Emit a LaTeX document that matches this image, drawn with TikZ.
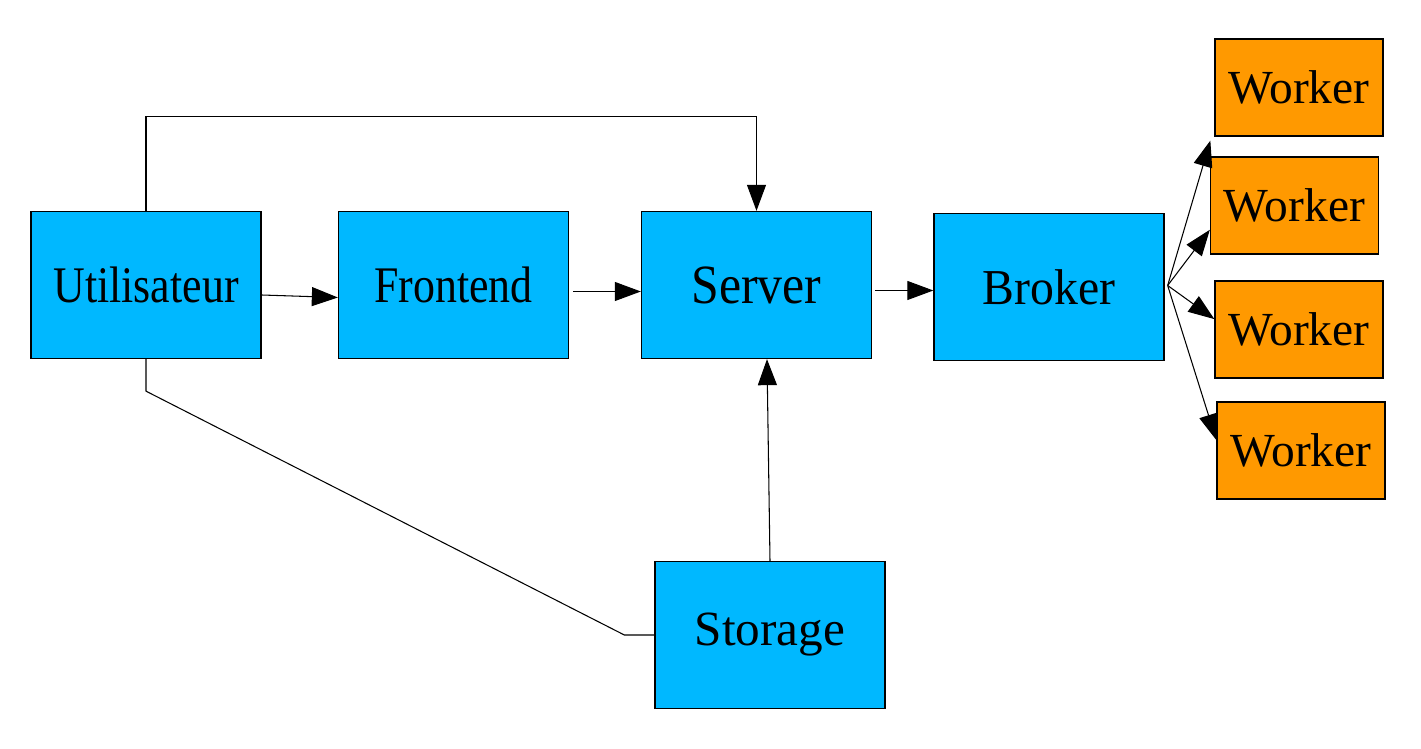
\documentclass[tikz,border=0pt]{standalone}
\usepackage{fontspec}
\setmainfont{Liberation Serif}
\newfontfamily\narrowserif[FakeStretch=0.855]{Liberation Serif}
\newfontfamily\serverserif[FakeStretch=0.9]{Liberation Serif}
\newfontfamily\brokerserif[FakeStretch=0.95]{Liberation Serif}
\usepackage{tikz}
\usetikzlibrary{shapes, arrows.meta}
\definecolor{skyblue}{RGB}{0,184,255}
\definecolor{workerorange}{RGB}{255,153,0}
\tikzstyle{service} = [rectangle, minimum width=4.6cm, minimum height=2.94cm, inner sep=0pt, text centered, draw=black, line width=0.75pt, fill=skyblue, font=\fontsize{28}{32}\selectfont]
\tikzstyle{worker} = [rectangle, minimum width=3.36cm, minimum height=1.94cm, inner sep=0pt, text centered, draw=black, line width=0.75pt, fill=workerorange, font=\fontsize{27}{31}\selectfont]
\tikzstyle{arrow} = [line width=0.6pt, -{Triangle[length=0.52cm, width=0.38cm]}]
\tikzstyle{link} = [line width=0.6pt]

\begin{document}
\begin{tikzpicture}[node distance = 6cm]
\useasboundingbox (0,0) rectangle (28.42,14.98);
\node (user) [service, font=\fontsize{29.2}{34}\selectfont\narrowserif] at (2.92,9.28) {Utilisateur};
\node (front) [service, font=\fontsize{29.2}{34}\selectfont\narrowserif, right of=user, xshift=0.15cm] {Frontend};
\node (server) [service, font=\fontsize{31.5}{36}\selectfont\serverserif, right of=front, xshift=0.06cm] {Server};
\node (broker) [service, font=\fontsize{28.6}{33}\selectfont\brokerserif, right of=server, xshift=-0.15cm, yshift=-0.04cm] {Broker};
\node (storage) [service, below of=server, xshift=0.27cm, yshift=-1cm] {Storage};
\node (w1) [worker, right of=broker, xshift=-1cm, yshift=3.99cm] {Worker};
\node (w2) [worker, below of=w1, node distance=2.36cm, xshift=-0.09cm] {Worker};
\node (w3) [worker, below of=w2, node distance=2.48cm, xshift=0.09cm] {Worker};
\node (w4) [worker, below of=w3, node distance=2.42cm, xshift=0.04cm] {Worker};
\coordinate (fan) at ([xshift=0.06cm, yshift=0.03cm]broker.east);

%---------------------------------ARROWS
\draw [arrow] ([yshift=-0.2cm]user.east) -- ([yshift=-0.25cm]front.west);
\draw [arrow] ([xshift=0.08cm, yshift=-0.13cm]front.east) -- ([yshift=-0.13cm]server.west);
\draw [arrow] ([xshift=0.06cm, yshift=-0.11cm]server.east) -- ([yshift=-0.07cm]broker.west);
\draw [arrow] (user.north) -- ++(0,1.88) -| (server.north);
\draw [link] (user.south) -- ++(0,-0.64) -- ([xshift=-0.6cm]storage.west) -- (storage.west);
\draw [arrow] (storage.north) -- ([xshift=0.21cm]server.south);
\draw [arrow] (fan) -- ([xshift=-0.08cm, yshift=-0.08cm]w1.south west);
\draw [arrow] (fan) -- (w2.196);
\draw [arrow] (fan) -- (w3.173);
\draw [arrow] (fan) -- (w4.173);

\end{tikzpicture}
\end{document}
